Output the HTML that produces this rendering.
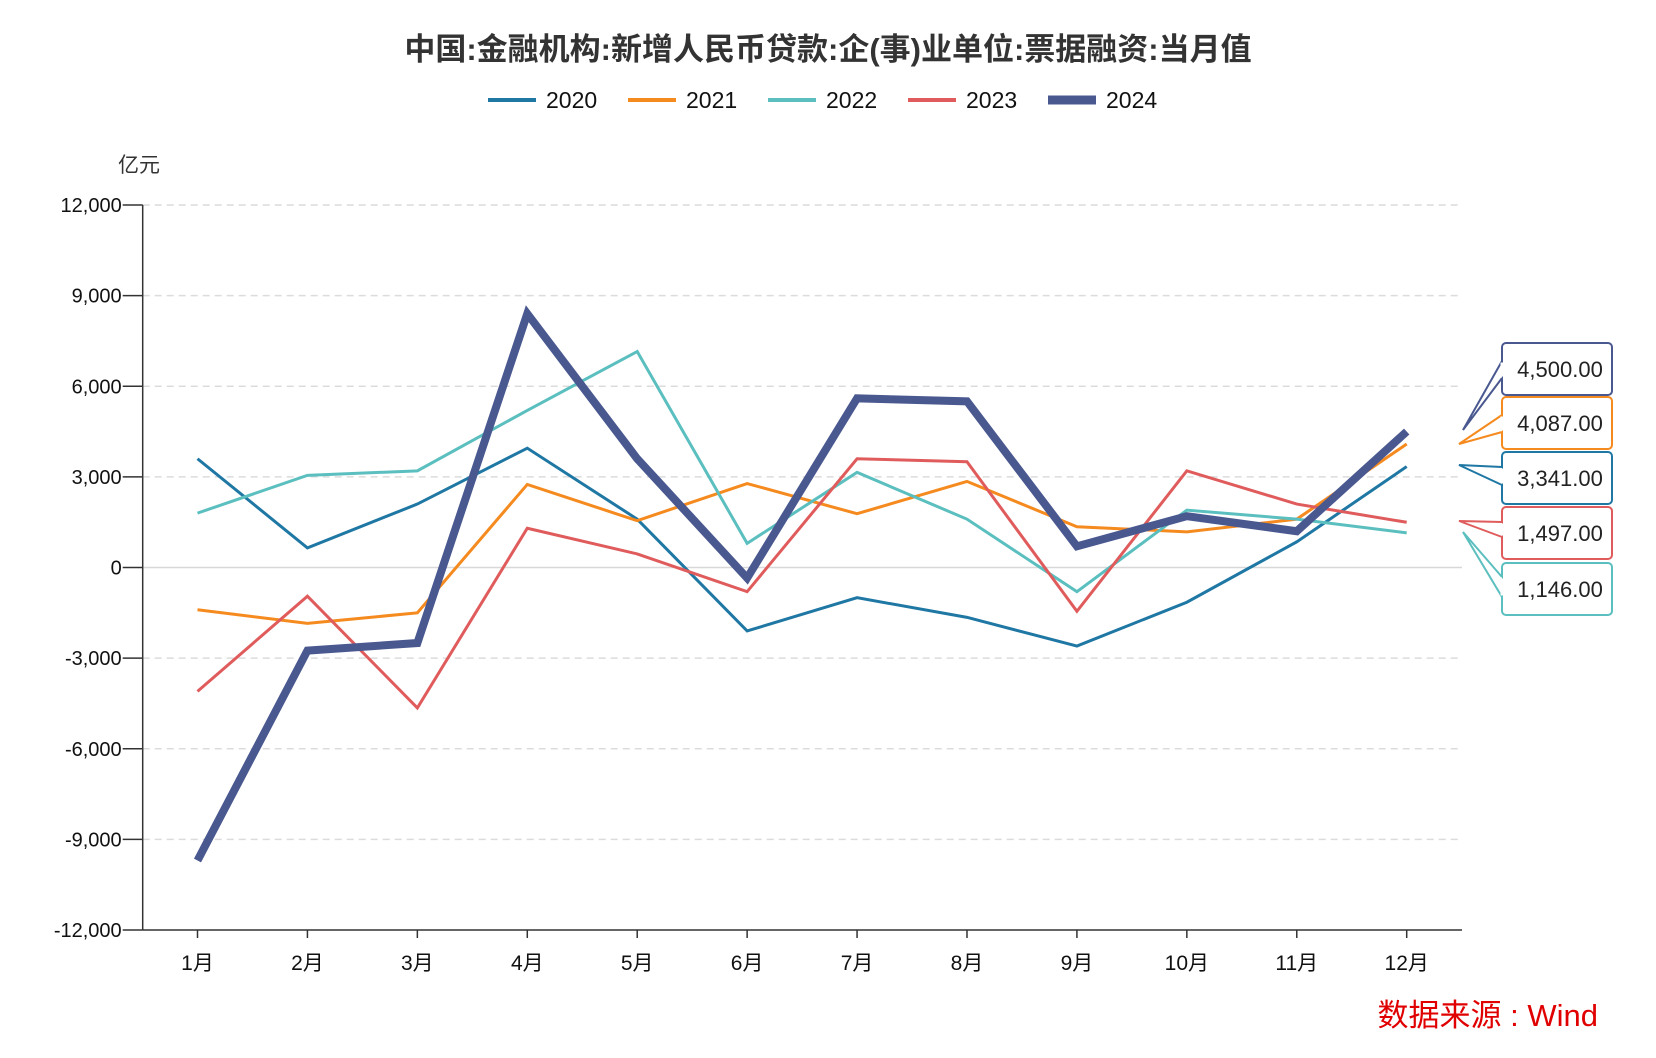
<!DOCTYPE html>
<html><head><meta charset="utf-8"><style>
body{margin:0;background:#fff;}
svg{display:block;font-family:"Liberation Sans","Noto Sans CJK SC",sans-serif;}
</style></head><body>
<svg id="chart" width="1656" height="1058" viewBox="0 0 1656 1058">
<text x="828" y="60" text-anchor="middle" font-size="31" font-weight="bold" fill="#333">中国:金融机构:新增人民币贷款:企(事)业单位:票据融资:当月值</text>
<g id="legend"></g>
<text x="118" y="172" font-size="21" fill="#333">亿元</text>
<g id="grid"></g><g id="axes"></g><g id="series"></g><g id="callouts"></g>
<text x="1598" y="1026" text-anchor="end" font-size="31" fill="#e00000">数据来源 : Wind</text>
</svg>
<script>
const months=["1月","2月","3月","4月","5月","6月","7月","8月","9月","10月","11月","12月"];
const yTicks=[12000,9000,6000,3000,0,-3000,-6000,-9000,-12000];
const years=["2020","2021","2022","2023","2024"];
const colors=["#1f77a4","#f58a1f","#5bbfbf","#e05c5c","#4a5890"];
const s2020=[3600,650,2100,3950,1600,-2100,-1000,-1650,-2600,-1150,850,3341];
const s2021=[-1400,-1850,-1500,2750,1550,2780,1780,2850,1350,1180,1600,4087];
const s2022=[1800,3050,3200,5200,7150,800,3150,1600,-800,1900,1600,1146];
const s2023=[-4100,-950,-4650,1300,450,-800,3600,3500,-1450,3200,2100,1497];
const s2024=[-9700,-2750,-2500,8400,3600,-350,5600,5500,700,1700,1200,4500];
const seriesData=[s2020,s2021,s2022,s2023,s2024];
const NS="http://www.w3.org/2000/svg";
const L=142.7,R=1462,T=205,B=930;
const x=i=>197.5+i*(1406.7-197.5)/11;
const y=v=>T+(12000-v)/24000*(B-T);
function mk(tag,attrs,parent){const e=document.createElementNS(NS,tag);for(const k in attrs)e.setAttribute(k,attrs[k]);parent.appendChild(e);return e;}
const grid=document.getElementById('grid'),axes=document.getElementById('axes');
yTicks.forEach(v=>{
 if(v!==-12000){const g=mk('line',{x1:L,x2:R,y1:y(v),y2:y(v),stroke:v===0?'#d8d8d8':'#dcdcdc','stroke-width':1.5,'stroke-dasharray':v===0?'none':'7,5'},grid);
 
 }
 const t=mk('line',{x1:L-20,x2:L,y1:y(v),y2:y(v),stroke:'#333','stroke-width':1.5},axes);
 
 
 const tx=mk('text',{x:L-21,y:y(v)+7,'text-anchor':'end','font-size':20,fill:'#111'},axes);
 tx.textContent=v.toLocaleString('en-US');
 
 
});
const ya=mk('line',{x1:L,x2:L,y1:T,y2:B,stroke:'#333','stroke-width':1.5},axes);


const xa=mk('line',{x1:L,x2:R,y1:B,y2:B,stroke:'#333','stroke-width':1.5},axes);


months.forEach((m,i)=>{
 const t=mk('line',{x1:x(i),x2:x(i),y1:B,y2:B+8,stroke:'#333','stroke-width':1.5},axes);
 
 
 const tx=mk('text',{x:x(i),y:B+40,'text-anchor':'middle','font-size':21,fill:'#111'},axes);
 tx.textContent=m;
 
 
});
const ser=document.getElementById('series');
seriesData.forEach((d,k)=>{
 const p=mk('polyline',{points:d.map((v,i)=>x(i)+','+y(v)).join(' '),fill:'none',stroke:colors[k],'stroke-width':k===4?8:3,'stroke-linejoin':'miter'},ser);
 
 
});
const leg=document.getElementById('legend');
const lx=[488,628,768,908,1048];
years.forEach((yr,k)=>{
 const l=mk('line',{x1:lx[k],x2:lx[k]+48,y1:100,y2:100,stroke:colors[k],'stroke-width':k===4?9:4},leg);
 
 
 const t=mk('text',{x:lx[k]+58,y:108,'font-size':23,fill:'#111'},leg);
 t.textContent=yr;
 
 
});
const co=document.getElementById('callouts');
const order=[4,1,0,3,2];
const boxTop=[343,397,452,507,563];
const tipY=[430,444,465,521,532];
const baseA=[361,415,467,522,577];
const baseB=[378,432,485,537,597];
order.forEach((k,j)=>{
 const d=seriesData[k],val=d[11];
 const bx=1502,bw=110,bt=boxTop[j],bh=52;
 const r=mk('rect',{x:bx,y:bt,width:bw,height:bh,rx:4,fill:'#fff',stroke:colors[k],'stroke-width':2},co);
 
 
 const tip=(k===4||k===2)?1463:1459;
 const pl=mk('polyline',{points:bx+','+baseA[j]+' '+tip+','+tipY[j]+' '+bx+','+baseB[j],fill:'#fff',stroke:colors[k],'stroke-width':2},co);
 
 
 mk('line',{x1:bx,x2:bx,y1:baseA[j]+1.5,y2:baseB[j]-1.5,stroke:'#fff','stroke-width':3},co);
 const t=mk('text',{x:bx+bw/2+3,y:bt+bh/2+8,'text-anchor':'middle','font-size':22,fill:'#222'},co);
 t.textContent=val.toLocaleString('en-US',{minimumFractionDigits:2,maximumFractionDigits:2});
 
 
});
</script>
</body></html>
